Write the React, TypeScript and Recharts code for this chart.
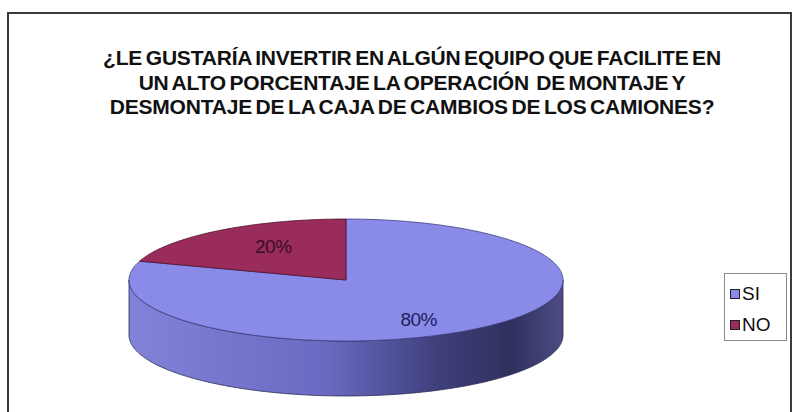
import React from 'react';
import { PieChart, Pie, Cell, Legend } from 'recharts';

const categories = ['SI', 'NO'];
const values = [80, 20];
const colors = ['#8a8ae8', '#9a2c5c'];
const labelColors = ['#1e1e5c', '#3a0c22'];
const titleLines = [
  '¿LE GUSTARÍA INVERTIR EN ALGÚN EQUIPO QUE FACILITE EN',
  'UN ALTO PORCENTAJE LA OPERACIÓN  DE MONTAJE Y',
  'DESMONTAJE DE LA CAJA DE CAMBIOS DE LOS CAMIONES?',
];

const data = categories.map((name, i) => ({ name, value: values[i] }));

// squash of the pie and thickness of the side wall
const TILT = 0.281;
const DEPTH = 55;
const RAD = Math.PI / 180;

const pt = (cx: number, cy: number, rx: number, ry: number, a: number) =>
  `${(cx + rx * Math.cos(a * RAD)).toFixed(2)},${(cy - ry * Math.sin(a * RAD)).toFixed(2)}`;

const arc = (cx: number, cy: number, rx: number, ry: number, a1: number, a2: number) => {
  const n = Math.max(2, Math.ceil(Math.abs(a2 - a1)));
  const out: string[] = [];
  for (let i = 0; i <= n; i++) out.push(pt(cx, cy, rx, ry, a1 + ((a2 - a1) * i) / n));
  return out;
};

const EllipseSector = (props: any) => {
  const { cx, cy, outerRadius, startAngle, endAngle, index } = props;
  const rx = outerRadius;
  const ry = outerRadius * TILT;
  const lo = Math.min(startAngle, endAngle);
  const hi = Math.max(startAngle, endAngle);
  const sides: React.ReactNode[] = [];
  // visible side wall = front half of the ellipse (180..360 deg)
  for (let k = -2; k <= 1; k++) {
    const s = Math.max(lo, 180 + 360 * k);
    const e = Math.min(hi, 360 + 360 * k);
    if (e > s) {
      const top = arc(cx, cy, rx, ry, s, e);
      const bottom = arc(cx, cy + DEPTH, rx, ry, e, s);
      sides.push(
        <path
          key={`side-${k}`}
          d={`M${top.join(' L')} L${bottom.join(' L')} Z`}
          fill={`url(#side-${index})`}
          stroke="#2c2c55"
          strokeWidth={0.8}
        />
      );
    }
  }
  const topPts = arc(cx, cy, rx, ry, startAngle, endAngle);
  return (
    <g>
      {sides}
      <path
        d={`M${cx},${cy} L${topPts.join(' L')} Z`}
        fill={colors[index]}
        stroke={index === 0 ? '#3e3e80' : '#4a1028'}
        strokeWidth={0.8}
      />
    </g>
  );
};

const renderLabel = (props: any) => {
  const { cx, cy, midAngle, outerRadius, percent, index } = props;
  const x = cx + outerRadius * 0.57 * Math.cos(midAngle * RAD);
  const y = cy - outerRadius * TILT * 0.75 * Math.sin(midAngle * RAD) + 3;
  return (
    <text
      x={x}
      y={y}
      fill={labelColors[index]}
      textAnchor="middle"
      dominantBaseline="central"
      fontFamily="'Liberation Sans', Arial, sans-serif"
      fontSize={19}
      letterSpacing={-0.5}
    >
      {`${Math.round(percent * 100)}%`}
    </text>
  );
};

const renderLegend = () => (
  <div style={{ padding: '4px 0 0 5px', fontFamily: "'Liberation Sans', Arial, sans-serif" }}>
    {categories.map((name, i) => (
      <div key={name} style={{ display: 'flex', alignItems: 'center', height: 31, fontSize: 19, color: '#111' }}>
        <span
          style={{
            display: 'inline-block',
            width: 8,
            height: 8,
            background: colors[i],
            border: '1px solid #222',
            marginRight: 2,
          }}
        />
        {name}
      </div>
    ))}
  </div>
);

export default function App() {
  return (
    <div style={{ position: 'absolute', left: 0, top: 0, width: 795, height: 412, overflow: 'hidden', background: '#fff' }}>
      <div
        style={{
          position: 'absolute',
          left: 7,
          top: 12,
          width: 785,
          height: 400,
          border: '2px solid #3a3a3a',
          borderBottom: 'none',
          boxSizing: 'border-box',
        }}
      />
      <div
        style={{
          position: 'absolute',
          left: 12,
          top: 46,
          width: 800,
          textAlign: 'center',
          fontFamily: "'Liberation Sans', Arial, sans-serif",
          fontWeight: 'bold',
          fontSize: 21,
          lineHeight: '24.5px',
          letterSpacing: -0.2,
          wordSpacing: -2,
          color: '#111',
          whiteSpace: 'pre',
        }}
      >
        {titleLines.map((l) => (
          <div key={l}>{l}</div>
        ))}
      </div>
      <div style={{ position: 'absolute', left: 0, top: 0 }}>
        <PieChart width={795} height={412} margin={{ top: 0, right: 0, bottom: 0, left: 0 }}>
          <defs>
            <linearGradient id="side-0" x1="0" y1="0" x2="1" y2="0">
              <stop offset="0" stopColor="#8282d8" />
              <stop offset="0.45" stopColor="#6a6ac2" />
              <stop offset="0.72" stopColor="#3e3e7a" />
              <stop offset="0.88" stopColor="#30305e" />
              <stop offset="1" stopColor="#4c4c84" />
            </linearGradient>
            <linearGradient id="side-1" x1="0" y1="0" x2="1" y2="0">
              <stop offset="0" stopColor="#7a2048" />
              <stop offset="1" stopColor="#3a0c22" />
            </linearGradient>
          </defs>
          <Pie
            data={data}
            dataKey="value"
            nameKey="name"
            cx={346}
            cy={280}
            outerRadius={217}
            startAngle={90}
            endAngle={-270}
            isAnimationActive={false}
            shape={EllipseSector}
            label={renderLabel}
            labelLine={false}
          >
            {data.map((d, i) => (
              <Cell key={d.name} fill={colors[i]} />
            ))}
          </Pie>
          <Legend
            content={renderLegend}
            wrapperStyle={{
              position: 'absolute',
              left: 724,
              top: 273,
              width: 63,
              height: 68,
              border: '1px solid #8a8a8a',
              boxSizing: 'border-box',
              background: '#fff',
            }}
          />
        </PieChart>
      </div>
    </div>
  );
}
